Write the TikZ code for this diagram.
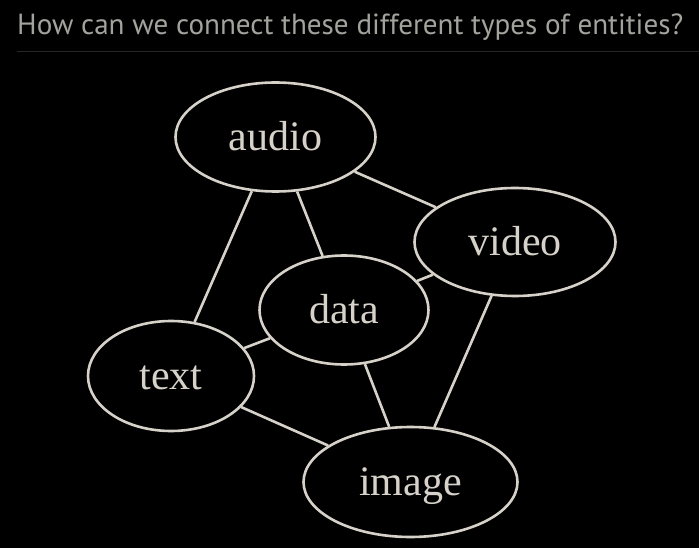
\documentclass[tikz,border=0pt]{standalone}
\usepackage{fontspec}
\setmainfont{Liberation Serif}
\newfontfamily\titlefont{PT Sans}
\usepackage{tikz}
\usetikzlibrary{shapes,positioning}
\usepackage{xcolor}
\definecolor{edgegray}{HTML}{D6D2CA}
\definecolor{titlegray}{HTML}{A3A39D}
\definecolor{rulegray}{HTML}{262626}

\begin{document}
\begin{tikzpicture}[x=1pt, y=-1pt]

    \tikzstyle{entity} = [
        ellipse,
        draw=edgegray,
        fill=black,
        line width=2.6pt,
        text=edgegray,
        inner sep=0pt,
        text height=27pt,
        text depth=0pt,
        font=\fontsize{42}{42}\selectfont
    ]
    \tikzstyle{line} = [
        draw=edgegray,
        line width=2.6pt,
    ]

    % background and heading
    \fill[black] (0,0) rectangle (699,548);
    \useasboundingbox (0,0) rectangle (699,548);
    \node [anchor=base west, inner sep=0pt, text=titlegray,
        font=\titlefont\fontsize{29.1}{29.1}\selectfont] (title) at (17,35)
        {How can we connect these different types of entities?};
    \coordinate (rulel) at (17,51.5);
    \coordinate (ruler) at (699,51.5);
    \draw [rulegray, line width=1pt] (rulel) -- (ruler);

    % edges first, ellipses on top
    \path [entity, minimum width=200pt, minimum height=109pt] (275.5,137) node (audio) {};
    \path [entity, minimum width=201pt, minimum height=108pt] (515,242)   node (video) {};
    \path [entity, minimum width=169pt, minimum height=109pt] (344,310)   node (data)  {};
    \path [entity, minimum width=166pt, minimum height=110pt] (171,376)   node (text)  {};
    \path [entity, minimum width=214pt, minimum height=110pt] (410.5,482) node (image) {};

    \path [line] (audio) -- (text);
    \path [line] (audio) -- (data);
    \path [line] (audio) -- (video);
    \path [line] (video) -- (data);
    \path [line] (video) -- (image);
    \path [line] (data) -- (text);
    \path [line] (data) -- (image);
    \path [line] (text) -- (image);

    \node [entity, minimum width=200pt, minimum height=109pt] at (audio) {audio};
    \node [entity, minimum width=201pt, minimum height=108pt] at (video) {video};
    \node [entity, minimum width=169pt, minimum height=109pt] at (data)  {data};
    \node [entity, minimum width=166pt, minimum height=110pt] at (text)  {text};
    \node [entity, minimum width=214pt, minimum height=110pt] at (image) {image};

\end{tikzpicture}
\end{document}
